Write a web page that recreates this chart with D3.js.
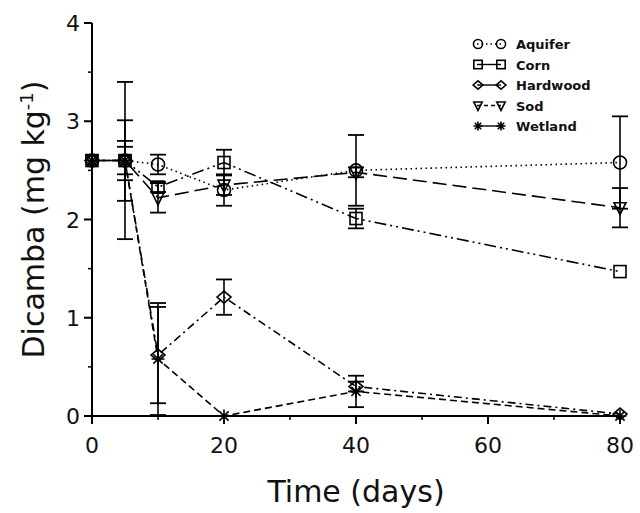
<!DOCTYPE html>
<html>
<head>
<meta charset="utf-8">
<script src="https://cdn.jsdelivr.net/npm/d3@7"></script>
<style>
  body { margin: 0; background: #fff; }
  text { font-family: "DejaVu Sans", sans-serif; fill: #111; }
</style>
</head>
<body>
<svg width="640" height="513"></svg>
<script>
var days = [0, 5, 10, 20, 40, 80];

var aquifer     = [2.60, 2.60, 2.56, 2.30, 2.50, 2.58];
var aquiferErr  = [0, 0, 0.10, 0.16, 0.36, 0.47];
var corn        = [2.60, 2.60, 2.33, 2.58, 2.01, 1.47];
var cornErr     = [0, 0.14, 0.05, 0.13, 0.10, 0];
var hardwood    = [2.60, 2.60, 0.62, 1.21, 0.30, 0.02];
var hardwoodErr = [0, 0.80, 0.49, 0.18, 0.05, 0];
var sod         = [2.60, 2.60, 2.22, 2.35, 2.48, 2.12];
var sodErr      = [0, 0.20, 0.15, 0.10, 0.05, 0.20];
var wetland     = [2.60, 2.60, 0.58, 0.00, 0.25, 0.00];
var wetlandErr  = [0, 0.41, 0.57, 0, 0.16, 0];

var seriesNames = ["Aquifer", "Corn", "Hardwood", "Sod", "Wetland"];
var xTicks = [0, 20, 40, 60, 80];
var yTicks = [0, 1, 2, 3, 4];

var series = [
  { name: "Aquifer",  vals: aquifer,  err: aquiferErr,  sym: "circle",   dash: "1.5,3.5" },
  { name: "Corn",     vals: corn,     err: cornErr,     sym: "square",   dash: "12,4,2,4,2,4" },
  { name: "Hardwood", vals: hardwood, err: hardwoodErr, sym: "diamond",  dash: "8,4,2,4" },
  { name: "Sod",      vals: sod,      err: sodErr,      sym: "triangle", dash: "14,6" },
  { name: "Wetland",  vals: wetland,  err: wetlandErr,  sym: "star",     dash: "7,4" }
];

var svg = d3.select("svg");

var x = d3.scaleLinear().domain([0, 80]).range([92, 620]);
var y = d3.scaleLinear().domain([0, 4]).range([416, 23]);

// axes
var gx = svg.append("g").attr("transform", "translate(0," + y(0) + ")");
gx.append("line").attr("x1", x(0)).attr("x2", x(80)).attr("stroke", "#000").attr("stroke-width", 2);
gx.selectAll(".maj").data(xTicks).enter().append("line")
  .attr("x1", d => x(d)).attr("x2", d => x(d)).attr("y1", 0).attr("y2", 8)
  .attr("stroke", "#000").attr("stroke-width", 2);
gx.selectAll(".min").data([10, 30, 50, 70]).enter().append("line")
  .attr("x1", d => x(d)).attr("x2", d => x(d)).attr("y1", 0).attr("y2", 4)
  .attr("stroke", "#000").attr("stroke-width", 1.5);
gx.selectAll("text").data(xTicks).enter().append("text")
  .attr("x", d => x(d)).attr("y", 37).attr("text-anchor", "middle")
  .style("font-size", "22px").text(d => d);

var gy = svg.append("g").attr("transform", "translate(" + x(0) + ",0)");
gy.append("line").attr("y1", y(0)).attr("y2", y(4)).attr("stroke", "#000").attr("stroke-width", 2);
gy.selectAll(".maj").data(yTicks).enter().append("line")
  .attr("y1", d => y(d)).attr("y2", d => y(d)).attr("x1", 0).attr("x2", -8)
  .attr("stroke", "#000").attr("stroke-width", 2);
gy.selectAll(".min").data([0.5, 1.5, 2.5, 3.5]).enter().append("line")
  .attr("y1", d => y(d)).attr("y2", d => y(d)).attr("x1", 0).attr("x2", -4)
  .attr("stroke", "#000").attr("stroke-width", 1.5);
gy.selectAll("text").data(yTicks).enter().append("text")
  .attr("x", -12).attr("y", d => y(d) + 8).attr("text-anchor", "end")
  .style("font-size", "22px").text(d => d);

// axis titles
svg.append("text").attr("x", (x(0) + x(80)) / 2).attr("y", 502)
  .attr("text-anchor", "middle").style("font-size", "30px").text("Time (days)");
var yt = svg.append("text")
  .attr("transform", "translate(44," + (y(0) + y(4)) / 2 + ") rotate(-90)")
  .attr("text-anchor", "middle").style("font-size", "30px");
yt.append("tspan").text("Dicamba (mg kg");
yt.append("tspan").attr("dy", -11).style("font-size", "18px").text("-1");
yt.append("tspan").attr("dy", 11).text(")");

// symbol drawing, k scales the symbol
function drawSym(g, sym, cx, cy, k) {
  k = k || 1;
  var w = 1.6;
  if (sym === "circle") {
    g.append("circle").attr("cx", cx).attr("cy", cy).attr("r", 6.5 * k)
      .attr("fill", "none").attr("stroke", "#000").attr("stroke-width", w);
  } else if (sym === "square") {
    g.append("rect").attr("x", cx - 6 * k).attr("y", cy - 6 * k).attr("width", 12 * k).attr("height", 12 * k)
      .attr("fill", "none").attr("stroke", "#000").attr("stroke-width", w);
  } else if (sym === "diamond") {
    g.append("path").attr("d", "M" + (cx - 7 * k) + "," + cy + "L" + cx + "," + (cy - 6 * k) + "L" + (cx + 7 * k) + "," + cy + "L" + cx + "," + (cy + 6 * k) + "Z")
      .attr("fill", "none").attr("stroke", "#000").attr("stroke-width", w);
  } else if (sym === "triangle") {
    g.append("path").attr("d", "M" + (cx - 6 * k) + "," + (cy - 5 * k) + "L" + (cx + 6 * k) + "," + (cy - 5 * k) + "L" + cx + "," + (cy + 7 * k) + "Z")
      .attr("fill", "none").attr("stroke", "#000").attr("stroke-width", w);
  } else if (sym === "star") {
    var s = 6.5 * k, p = "";
    [0, 45, 90, 135].forEach(function(a) {
      var r = a * Math.PI / 180;
      p += "M" + (cx - s * Math.cos(r)) + "," + (cy - s * Math.sin(r)) + "L" + (cx + s * Math.cos(r)) + "," + (cy + s * Math.sin(r));
    });
    g.append("path").attr("d", p).attr("stroke", "#000").attr("stroke-width", w);
  }
}

var line = d3.line().x(d => x(d[0])).y(d => y(d[1]));

series.forEach(function(s) {
  var g = svg.append("g");
  var pts = days.map((d, i) => [d, s.vals[i]]);
  g.append("path").attr("d", line(pts)).attr("fill", "none")
    .attr("stroke", "#000").attr("stroke-width", 1.6).attr("stroke-dasharray", s.dash);
  // error bars
  days.forEach(function(d, i) {
    var e = s.err[i];
    if (!e) return;
    var lo = Math.max(0, s.vals[i] - e), hi = s.vals[i] + e;
    g.append("line").attr("x1", x(d)).attr("x2", x(d)).attr("y1", y(lo)).attr("y2", y(hi))
      .attr("stroke", "#000").attr("stroke-width", 1.6);
    [lo, hi].forEach(function(v) {
      g.append("line").attr("x1", x(d) - 8).attr("x2", x(d) + 8).attr("y1", y(v)).attr("y2", y(v))
        .attr("stroke", "#000").attr("stroke-width", 1.8);
    });
  });
  days.forEach(function(d, i) { drawSym(g, s.sym, x(d), y(s.vals[i])); });
});

// legend
var leg = svg.append("g");
series.forEach(function(s, i) {
  var ly = 44 + i * 20.5;
  leg.append("line").attr("x1", 477).attr("x2", 501).attr("y1", ly).attr("y2", ly)
    .attr("stroke", "#000").attr("stroke-width", 1.4)
    .attr("stroke-dasharray", i === 0 ? "1.5,3" : (i === 3 ? "4,3" : null));
  drawSym(leg, s.sym, 478, ly, 0.7);
  drawSym(leg, s.sym, 501, ly, 0.7);
  leg.append("text").attr("x", 516).attr("y", ly + 5).style("font-size", "13px")
    .style("font-weight", "bold").text(seriesNames[i]);
});
</script>
</body>
</html>
